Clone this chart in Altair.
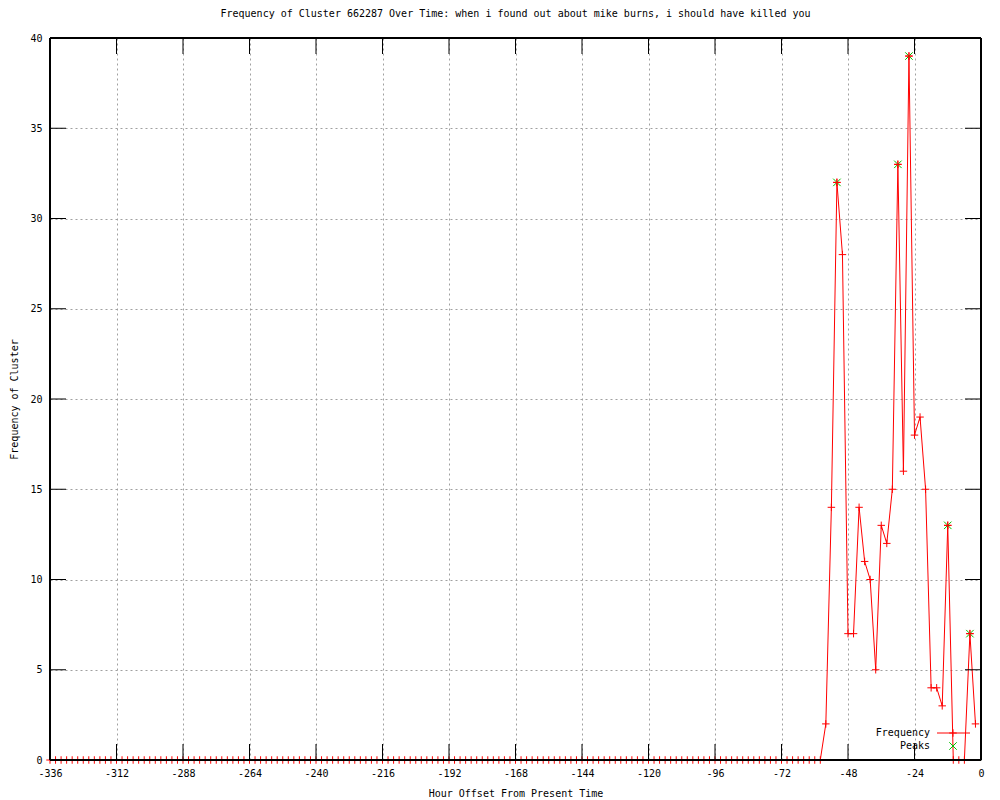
import altair as alt
import pandas as pd

# ---- data ----
hours = list(range(-336, -1, 2))
freq_tail = [2, 14, 32, 28, 7, 7, 14, 11, 10, 5, 13, 12, 15, 33, 16, 39,
             18, 19, 15, 4, 4, 3, 13, 0, 0, 0, 7, 2]
freq = [0] * (len(hours) - len(freq_tail)) + freq_tail
peak_hours = [-52, -30, -26, -12, -4]
peak_values = [32, 33, 39, 13, 7]
x_ticks = list(range(-336, 1, 24))
y_ticks = list(range(0, 41, 5))
legend_labels = ["Frequency", "Peaks"]
title_text = "Frequency of Cluster 662287 Over Time: when i found out about mike burns, i should have killed you"

W, H = 931, 722
FONT = "DejaVu Sans Mono"
RED = "#ff0000"
GREEN = "#00c000"
PLUS = "M-1,0L1,0M0,-1L0,1"
XSHAPE = "M-1,-1L1,1M-1,1L1,-1"

df = pd.DataFrame({"hour": hours, "freq": freq})
peaks = pd.DataFrame({"hour": peak_hours, "freq": peak_values})
xt = pd.DataFrame({"t": x_ticks})
yt = pd.DataFrame({"t": y_ticks})

xscale = alt.Scale(domain=[-336, 0], nice=False, zero=False)
yscale = alt.Scale(domain=[0, 40], nice=False)

x_axis = alt.Axis(values=x_ticks, labelExpr="'' + datum.value", title="Hour Offset From Present Time",
                  grid=True, gridColor="#a0a0a0", gridDash=[2, 3], gridWidth=1,
                  ticks=False, tickSize=0, domain=False, labelPadding=8, titlePadding=10,
                  labelFont=FONT, labelFontSize=10, labelColor="black",
                  titleFont=FONT, titleFontSize=10, titleFontWeight="normal", titleColor="black",
                  labelFlush=False)
y_axis = alt.Axis(values=y_ticks, labelExpr="'' + datum.value", title="Frequency of Cluster",
                  grid=True, gridColor="#a0a0a0", gridDash=[2, 3], gridWidth=1,
                  ticks=False, tickSize=0, domain=False, labelPadding=8, titlePadding=10,
                  labelFont=FONT, labelFontSize=10, labelColor="black",
                  titleFont=FONT, titleFontSize=10, titleFontWeight="normal", titleColor="black",
                  labelFlush=False)


def X(field):
    return alt.X(field, scale=xscale, axis=x_axis)


def Y(field):
    return alt.Y(field, scale=yscale, axis=y_axis)


line = alt.Chart(df).mark_line(color=RED, strokeWidth=1).encode(x=X("hour:Q"), y=Y("freq:Q"))
pts = alt.Chart(df).mark_point(shape=PLUS, stroke=RED, strokeWidth=1, filled=False, size=56, opacity=1).encode(
    x=X("hour:Q"), y=Y("freq:Q"))
pk = alt.Chart(peaks).mark_point(shape=XSHAPE, stroke=GREEN, strokeWidth=1, filled=False, size=56, opacity=1).encode(
    x=X("hour:Q"), y=Y("freq:Q"))
pts_top = alt.Chart(peaks).mark_point(shape=PLUS, stroke=RED, strokeWidth=1, filled=False, size=56, opacity=1).encode(
    x=X("hour:Q"), y=Y("freq:Q"))

TL = 16
tick_bottom = alt.Chart(xt).mark_rule(color="black", strokeWidth=1).encode(
    x=X("t:Q"), y=alt.value(H), y2=alt.value(H - TL))
tick_top = alt.Chart(xt).mark_rule(color="black", strokeWidth=1).encode(
    x=X("t:Q"), y=alt.value(0), y2=alt.value(TL))
tick_left = alt.Chart(yt).mark_rule(color="black", strokeWidth=1).encode(
    y=Y("t:Q"), x=alt.value(0), x2=alt.value(TL))
tick_right = alt.Chart(yt).mark_rule(color="black", strokeWidth=1).encode(
    y=Y("t:Q"), x=alt.value(W - TL), x2=alt.value(W))

border = alt.Chart(xt).mark_rect(filled=False, stroke="black", strokeWidth=1, fillOpacity=0).encode(
    x=alt.value(0), x2=alt.value(W), y=alt.value(0), y2=alt.value(H))

# legend (inside, bottom right)
leg_df = pd.DataFrame({"label": legend_labels})
leg_text1 = alt.Chart(leg_df).transform_filter("datum.label == 'Frequency'").mark_text(
    align="right", baseline="middle", font=FONT, fontSize=10, color="black").encode(
    text="label:N", x=alt.value(880), y=alt.value(695))
leg_text2 = alt.Chart(leg_df).transform_filter("datum.label == 'Peaks'").mark_text(
    align="right", baseline="middle", font=FONT, fontSize=10, color="black").encode(
    text="label:N", x=alt.value(880), y=alt.value(708))
leg_line = alt.Chart(leg_df).transform_filter("datum.label == 'Frequency'").mark_rule(
    color=RED, strokeWidth=1).encode(x=alt.value(887), x2=alt.value(920), y=alt.value(695))
leg_plus = alt.Chart(leg_df).transform_filter("datum.label == 'Frequency'").mark_point(
    shape=PLUS, stroke=RED, strokeWidth=1, filled=False, size=56, opacity=1).encode(
    x=alt.value(903), y=alt.value(695))
leg_x = alt.Chart(leg_df).transform_filter("datum.label == 'Peaks'").mark_point(
    shape=XSHAPE, stroke=GREEN, strokeWidth=1, filled=False, size=56, opacity=1).encode(
    x=alt.value(903), y=alt.value(708))

chart = alt.layer(
    line, pts, pk, pts_top,
    tick_bottom, tick_top, tick_left, tick_right, border,
    leg_text1, leg_text2, leg_line, leg_plus, leg_x,
).properties(
    width=W, height=H,
    title=alt.TitleParams(title_text, font=FONT, fontSize=10, fontWeight="normal",
                          color="black", anchor="middle", baseline="middle", offset=9),
    autosize=alt.AutoSizeParams(type="none"),
    padding={"left": 42, "top": 30, "right": 11, "bottom": 40},
).configure_view(stroke=None).configure(background="white")

chart.save("out.html", embed_options={"renderer": "svg", "actions": False})
